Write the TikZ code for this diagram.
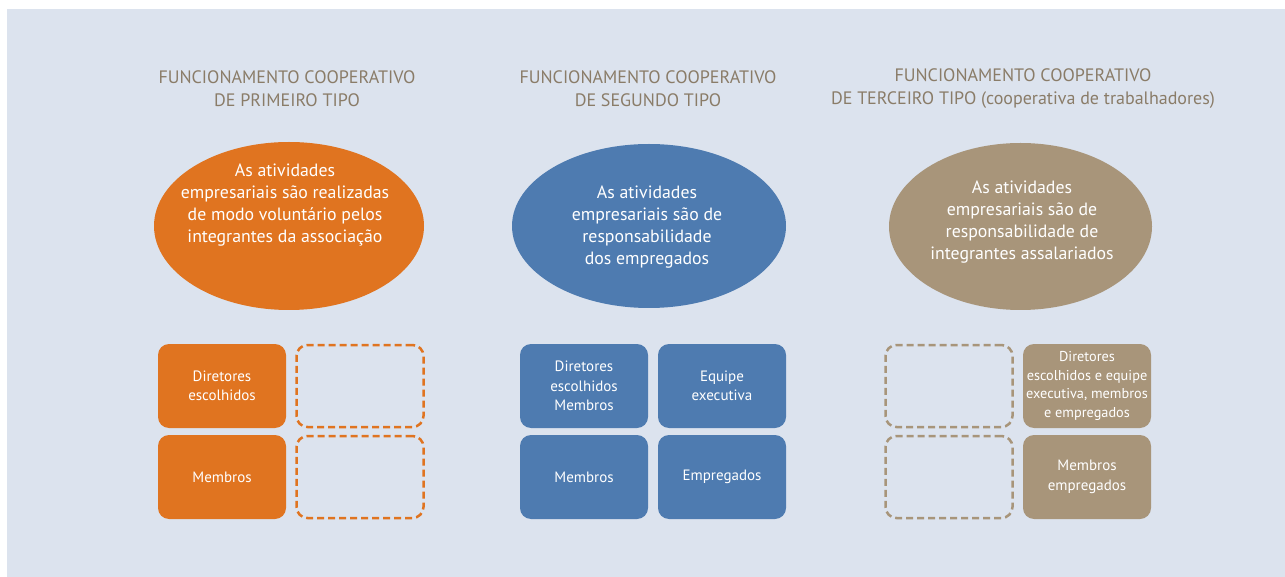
\documentclass[tikz,border=0pt]{standalone}
\usepackage{fontspec}
\setmainfont{PT Sans}
\usetikzlibrary{shapes.geometric}
\definecolor{bgpanel}{HTML}{DCE3EE}
\definecolor{corange}{HTML}{E07420}
\definecolor{cblue}{HTML}{4E7BB0}
\definecolor{ctan}{HTML}{A8957A}
\definecolor{ctitle}{HTML}{8A7C68}
\tikzset{
  ttl/.style={text=ctitle, font=\fontsize{18}{23}\selectfont, align=center},
  ell/.style={ellipse, inner sep=0pt},
  etext/.style={text=white, font=\fontsize{17.8}{22}\selectfont, align=center},
  fbox/.style={rounded corners=11pt, minimum width=128pt, minimum height=84pt, inner sep=0pt, text=white, font=\fontsize{15}{19.5}\selectfont, align=center},
  dbox/.style={rounded corners=11pt, minimum width=127pt, minimum height=82pt, inner sep=0pt, dashed, dash pattern=on 7pt off 4pt, line width=2.5pt},
}
\begin{document}
\begin{tikzpicture}[x=1pt,y=-1pt]
\useasboundingbox (0,0) rectangle (1285,577);
\fill[white] (0,0) rectangle (1285,577);
\fill[bgpanel] (7,9) rectangle (1285,577);
% titles
\node[ttl] (t1) at (287,89) {FUNCIONAMENTO COOPERATIVO\\DE PRIMEIRO TIPO};
\node[ttl] (t2) at (648,89) {FUNCIONAMENTO COOPERATIVO\\DE SEGUNDO TIPO};
\node[ttl] (t3) at (1023,89) {FUNCIONAMENTO COOPERATIVO\\DE TERCEIRO TIPO (cooperativa de trabalhadores)};
% ellipses
\node[ell, fill=corange, minimum width=270pt, minimum height=168pt] (e1) at (289,226) {};
\node[etext] (e1t) at ([xshift=-4pt,yshift=20.5pt]e1.center) {As atividades\\empresariais são realizadas\\de modo voluntário pelos\\integrantes da associação};
\node[ell, fill=cblue, minimum width=274pt, minimum height=164pt] (e2) at (649,226) {};
\node[etext] (e2t) at ([xshift=-2pt,yshift=-1.5pt]e2.center) {As atividades\\empresariais são de\\responsabilidade\\dos empregados};
\node[ell, fill=ctan, minimum width=263pt, minimum height=167pt] (e3) at (1020.5,226.5) {};
\node[etext] (e3t) at ([xshift=1.5pt,yshift=4pt]e3.center) {As atividades\\empresariais são de\\responsabilidade de\\integrantes assalariados};
% column 1
\node[fbox, fill=corange] (a1) at (222,386) {Diretores\\escolhidos};
\node[fbox, fill=corange] (a2) at (222,477) {Membros};
\node[dbox, draw=corange] (a3) at (360,386) {};
\node[dbox, draw=corange] (a4) at (360,477) {};
% column 2
\node[fbox, fill=cblue] (b1) at (584,386) {Diretores\\escolhidos\\Membros};
\node[fbox, fill=cblue] (b2) at (584,477) {Membros};
\node[fbox, fill=cblue] (b3) at (722,386) {Equipe\\executiva};
\node[fbox, fill=cblue] (b4) at (722,477) {Empregados};
% column 3
\node[dbox, draw=ctan] (c1) at (949,386) {};
\node[dbox, draw=ctan] (c2) at (949,477) {};
\node[fbox, fill=ctan, font=\fontsize{14.3}{18.5}\selectfont] (c3) at (1087,386) {Diretores\\escolhidos e equipe\\executiva, membros\\e empregados};
\node[fbox, fill=ctan] (c4) at (1087,477) {Membros\\empregados};
\end{tikzpicture}
\end{document}
